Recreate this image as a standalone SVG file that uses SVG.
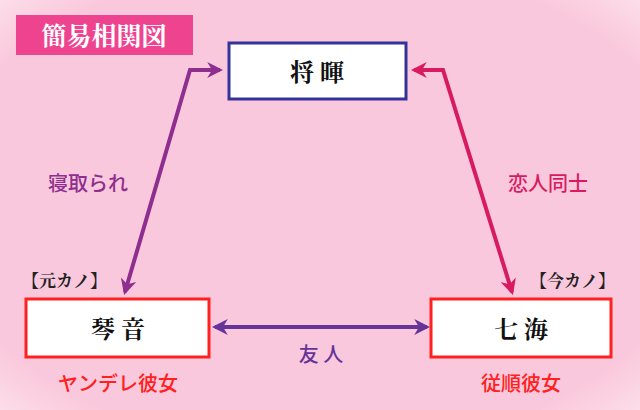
<svg xmlns="http://www.w3.org/2000/svg" width="640" height="410" viewBox="0 0 640 410">
<defs>
<radialGradient id="bg" cx="50%" cy="50%" r="75%"><stop offset="80%" stop-color="#fac8dc"/><stop offset="100%" stop-color="#fde6ef"/></radialGradient>
<marker id="mp" viewBox="0 0 10 10" refX="8" refY="5" markerWidth="4" markerHeight="4" orient="auto-start-reverse"><path d="M0,0 L10,5 L0,10 L3,5 z" fill="#8e2e8e"/></marker>
<marker id="mr" viewBox="0 0 10 10" refX="8" refY="5" markerWidth="4" markerHeight="4" orient="auto-start-reverse"><path d="M0,0 L10,5 L0,10 L3,5 z" fill="#d81b60"/></marker>
<marker id="mv" viewBox="0 0 10 10" refX="8" refY="5" markerWidth="4" markerHeight="4" orient="auto-start-reverse"><path d="M0,0 L10,5 L0,10 L3,5 z" fill="#663399"/></marker>
</defs>
<style>
.n{font-family:"Noto Serif CJK JP","Noto Sans CJK JP",serif;font-weight:bold;font-size:24px;text-anchor:middle;fill:#111}
.l{font-family:"Noto Sans CJK JP",sans-serif;font-size:20px;font-weight:500;text-anchor:middle}
.b{font-family:"Noto Serif CJK JP","Noto Sans CJK JP",serif;font-weight:bold;font-size:17px;fill:#222}
</style>
<rect width="640" height="410" fill="url(#bg)"/>
<rect x="16" y="15" width="177" height="40" fill="#ee4490"/>
<text x="104" y="45" class="n" style="fill:#fff;font-size:25px">簡易相関図</text>
<g id="connectors" fill="none" stroke-width="4">
<path d="M125,292 L190,70 L220,70" stroke="#8e2e8e" marker-start="url(#mp)" marker-end="url(#mp)"/>
<path d="M512,292 L443,70 L414,70" stroke="#d81b60" marker-start="url(#mr)" marker-end="url(#mr)"/>
<path d="M215,327 L427,327" stroke="#663399" marker-start="url(#mv)" marker-end="url(#mv)"/>
</g>
<text x="88" y="191" class="l" fill="#8e2e8e">寝取られ</text>
<text x="548" y="191" class="l" fill="#d81b60">恋人同士</text>
<text x="321" y="362" class="l" fill="#663399">友 人</text>
<g id="shoki"><rect x="229" y="43" width="177" height="56" fill="#fff" stroke="#333399" stroke-width="3"/><text x="317" y="81" class="n">将 暉</text></g>
<g id="kotone"><rect x="26" y="299" width="183" height="58" fill="#fff" stroke="#ff2020" stroke-width="3"/><text x="118" y="338" class="n">琴 音</text>
<text x="22" y="287" class="b">【元カノ】</text>
<text x="118" y="391" class="l" fill="#ff2020">ヤンデレ彼女</text></g>
<g id="nanami"><rect x="431" y="299" width="180" height="58" fill="#fff" stroke="#ff2020" stroke-width="3"/><text x="521" y="338" class="n">七 海</text>
<text x="530" y="287" class="b">【今カノ】</text>
<text x="521" y="391" class="l" fill="#ff2020">従順彼女</text></g>
</svg>
